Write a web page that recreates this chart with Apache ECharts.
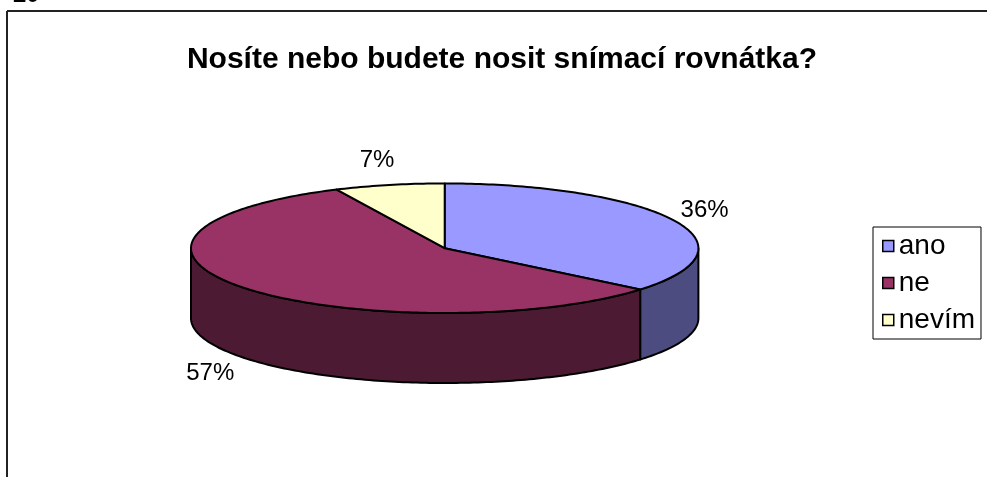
<!DOCTYPE html>
<html>
<head>
<meta charset="utf-8">
<script src="https://cdn.jsdelivr.net/npm/echarts@6/dist/echarts.min.js"></script>
<style>
  html, body { margin: 0; padding: 0; background: #fff; }
  #chart { width: 987px; height: 477px; }
</style>
</head>
<body>
<div id="chart"></div>
<script>
// Survey answers and their shares (%)
const categories = ['ano', 'ne', 'nevím'];
const shares = [36, 57, 7];
const topColors = ['#9999FF', '#993366', '#FFFFCC'];
const sideColors = ['#4C4C80', '#4C1A33', '#80806A'];
const chartTitle = 'Nosíte nebo budete nosit snímací rovnátka?';
const pageNumber = '20';

// Tilted pie: top ellipse and wall height, in pixels
const PIE = { cx: 444.7, cy: 248.2, rx: 253.7, ry: 64.8, depth: 70 };
const FONT = '"Liberation Sans", Arial, sans-serif';

const total = shares.reduce((a, b) => a + b, 0);
const starts = [];
let acc = 0;
shares.forEach(v => { starts.push(acc); acc += v; });

// angle measured clockwise from 12 o'clock
function pt(theta, dy) {
  return [PIE.cx + PIE.rx * Math.sin(theta), PIE.cy - PIE.ry * Math.cos(theta) + (dy || 0)];
}
function arc(a0, a1, dy) {
  const n = Math.max(2, Math.ceil((a1 - a0) / (Math.PI / 180)));
  const out = [];
  for (let i = 0; i <= n; i++) out.push(pt(a0 + (a1 - a0) * i / n, dy));
  return out;
}

function renderSlice(idx) {
  return function (params, api) {
    const v = api.value(0);
    const a0 = starts[idx] / total * 2 * Math.PI;
    const a1 = a0 + v / total * 2 * Math.PI;
    const children = [];
    // front wall is only visible between 3 and 9 o'clock
    const f0 = Math.max(a0, Math.PI / 2);
    const f1 = Math.min(a1, 1.5 * Math.PI);
    if (f1 > f0) {
      const topEdge = arc(f0, f1, 0);
      const botEdge = arc(f0, f1, PIE.depth).reverse();
      children.push({
        type: 'polygon', z2: 1,
        shape: { points: topEdge.concat(botEdge) },
        style: { fill: sideColors[idx], stroke: '#000', lineWidth: 2, lineJoin: 'round' }
      });
    }
    const face = [[PIE.cx, PIE.cy]].concat(arc(a0, a1, 0));
    children.push({
      type: 'polygon', z2: 2,
      shape: { points: face },
      style: { fill: topColors[idx], stroke: '#000', lineWidth: 2, lineJoin: 'round' }
    });
    // percentage label just outside the rim
    const mid = (a0 + a1) / 2;
    const front = Math.cos(mid) < 0;
    const e = pt(mid, front ? PIE.depth : 0);
    children.push({
      type: 'text', z2: 3,
      x: e[0] + Math.sin(mid) * 38 - 4,
      y: e[1] - Math.cos(mid) * 25,
      style: {
        text: Math.round(v / total * 100) + '%',
        fontSize: 24, fontFamily: FONT, fill: '#000',
        align: 'center', verticalAlign: 'middle'
      }
    });
    return { type: 'group', children };
  };
}

const chart = echarts.init(document.getElementById('chart'), null, { renderer: 'canvas' });

chart.setOption({
  animation: false,
  backgroundColor: '#fff',
  legend: {
    data: categories,
    orient: 'vertical',
    left: 873,
    top: 227,
    padding: [5, 6, 5, 9],
    itemGap: 9,
    itemWidth: 11,
    itemHeight: 11,
    icon: 'rect',
    selectedMode: false,
    backgroundColor: '#fff',
    borderColor: '#000',
    borderWidth: 1,
    itemStyle: { borderColor: '#000', borderWidth: 1.5 },
    textStyle: { fontFamily: FONT, fontSize: 28, color: '#000', lineHeight: 28 }
  },
  graphic: [
    { type: 'line', shape: { x1: 7, y1: 11, x2: 987, y2: 11 }, style: { stroke: '#222', lineWidth: 2 } },
    { type: 'line', shape: { x1: 7, y1: 11, x2: 7, y2: 477 }, style: { stroke: '#222', lineWidth: 2 } },
    { type: 'text', x: 13, y: -5, style: { text: pageNumber, fontSize: 24, fontWeight: 'bold', fontFamily: FONT, fill: '#000', verticalAlign: 'middle' } },
    { type: 'text', x: 502, y: 60, style: { text: chartTitle, fontSize: 30, fontWeight: 'bold', fontFamily: FONT, fill: '#000', align: 'center', verticalAlign: 'middle' } }
  ],
  series: categories.map((name, i) => ({
    type: 'custom',
    name: name,
    coordinateSystem: 'none',
    silent: true,
    itemStyle: { color: topColors[i] },
    data: [[shares[i]]],
    renderItem: renderSlice(i)
  }))
});
</script>
</body>
</html>
